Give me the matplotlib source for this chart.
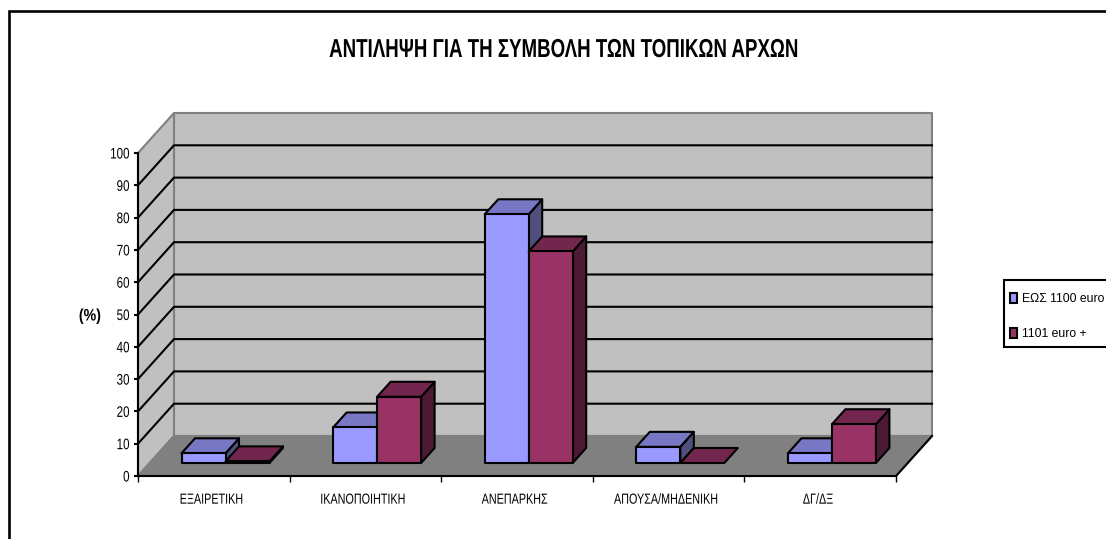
import numpy as np
import matplotlib
matplotlib.use('Agg')
import matplotlib.pyplot as plt
from matplotlib.patches import Polygon, Patch, Rectangle
from matplotlib.patheffects import AbstractPathEffect
from matplotlib.transforms import Affine2D
plt.rcParams['font.family'] = ['Liberation Sans', 'DejaVu Sans']

categories = ['ΕΞΑΙΡΕΤΙΚΗ', 'ΙΚΑΝΟΠΟΙΗΤΙΚΗ', 'ΑΝΕΠΑΡΚΗΣ', 'ΑΠΟΥΣΑ/ΜΗΔΕΝΙΚΗ', 'ΔΓ/ΔΞ']
low_income = [3, 11, 77, 5, 3]
high_income = [0.5, 20.5, 65.5, 0, 12]
series_names = ['ΕΩΣ 1100 euro', '1101 euro +']
title = 'ΑΝΤΙΛΗΨΗ ΓΙΑ ΤΗ ΣΥΜΒΟΛΗ ΤΩΝ ΤΟΠΙΚΩΝ ΑΡΧΩΝ'

W, H = 1106, 539
# axes box in pixels, front edge of the 3d box
left, right, top, bottom = 138, 896, 153, 476
px_x = (right - left) / len(categories)
px_y = (bottom - top) / 100

# oblique depth of the whole box, in data units
depth_x = 36 / px_x
depth_y = 40 / px_y
bar_w = 44 / px_x
bar_d0, bar_d1 = 0.325, 0.70


class Squeeze(AbstractPathEffect):
    # the reference text is horizontally squashed, no narrow font is installed
    def __init__(self, sx, anchor=0.5, shift=0):
        super().__init__()
        self.sx, self.anchor, self.shift = sx, anchor, shift

    def draw_path(self, renderer, gc, tpath, affine, rgbFace=None):
        w = tpath.get_extents().x1 * self.anchor
        local = Affine2D().translate(-w, 0).scale(self.sx, 1).translate(w, 0)
        renderer.draw_path(gc, tpath, local + affine + Affine2D().translate(self.shift, 0), rgbFace)


fig = plt.figure(figsize=(W / 100, H / 100), dpi=100)
ax = fig.add_axes([left / W, 1 - bottom / H, (right - left) / W, (bottom - top) / H])
ax.set_xlim(0, len(categories))
ax.set_ylim(0, 100)
ax.patch.set_visible(False)


def proj(x, y, d):
    return (x + d * depth_x, y + d * depth_y)


def face(pts, color, ec, lw=1.5, z=1):
    ax.add_patch(Polygon(pts, closed=True, fc=color, ec=ec, lw=lw, zorder=z, clip_on=False, joinstyle='round'))


n = len(categories)
wall = '#C0C0C0'
# back wall, side wall, floor
face([proj(0, 0, 1), proj(n, 0, 1), proj(n, 100, 1), proj(0, 100, 1)], wall, '#808080')
face([proj(0, 0, 0), proj(0, 0, 1), proj(0, 100, 1), proj(0, 100, 0)], wall, '#808080')
face([proj(0, 0, 0), proj(n, 0, 0), proj(n, 0, 1), proj(0, 0, 1)], '#808080', '#808080')
ax.plot(*zip(proj(n, 0, 0), proj(n, 0, 1)), color='k', lw=1.5, zorder=2, clip_on=False)

# gridlines, side wall then back wall
for v in range(10, 100, 10):
    ax.plot(*zip(proj(0, v, 0), proj(0, v, 1), proj(n, v, 1)), color='k', lw=1.5, zorder=2, clip_on=False,
            solid_joinstyle='miter')

colors = [('#9999FF', '#7777C4', '#50507F'), ('#993366', '#73264D', '#4D1A33')]


def bar3d(x0, v, cols):
    x1 = x0 + bar_w
    front, upper, side = cols
    if v > 0:
        face([proj(x1, 0, bar_d0), proj(x1, 0, bar_d1), proj(x1, v, bar_d1), proj(x1, v, bar_d0)], side, 'k', z=3)
    face([proj(x0, v, bar_d0), proj(x1, v, bar_d0), proj(x1, v, bar_d1), proj(x0, v, bar_d1)], upper, 'k', z=3)
    if v > 0:
        face([proj(x0, 0, bar_d0), proj(x1, 0, bar_d0), proj(x1, v, bar_d0), proj(x0, v, bar_d0)], front, 'k', z=3)


for i in range(n):
    start = i + 0.5 - bar_w
    bar3d(start, low_income[i], colors[0])
    bar3d(start + bar_w, high_income[i], colors[1])

# axes
for s in ['top', 'right']:
    ax.spines[s].set_visible(False)
ax.spines['left'].set_linewidth(1.5)
ax.spines['bottom'].set_linewidth(1.5)
ax.set_yticks(range(0, 101, 10))
ax.tick_params(axis='y', labelsize=11, length=3, width=1.5, pad=3)
for lab in ax.get_yticklabels():
    lab.set_path_effects([Squeeze(0.76, anchor=1.0)])
ax.set_xticks(range(n + 1))
ax.set_xticklabels([])
ax.tick_params(axis='x', which='major', length=4, width=1, color='k')
ax.set_xticks(np.arange(n) + 0.5, minor=True)
ax.set_xticklabels(categories, minor=True)
ax.tick_params(axis='x', which='minor', length=0, labelsize=10.5, pad=12)
for lab in ax.get_xticklabels(minor=True):
    lab.set_path_effects([Squeeze(0.74, shift=-2)])

fig.text(90 / W, 1 - 316 / H, '(%)', fontsize=12, fontweight='bold', ha='center', va='center',
         path_effects=[Squeeze(0.85)])
fig.text(564 / W, 1 - 50 / H, title, fontsize=18.7, fontweight='bold', ha='center', va='center',
         path_effects=[Squeeze(0.72)])

# outer frame runs off the right and bottom of the picture
fig.add_artist(plt.Line2D([8.5 / W, 8.5 / W, 1], [0, 1 - 10.5 / H, 1 - 10.5 / H], color='k', lw=1.9,
                          solid_joinstyle='miter'))

# legend box is cut by the picture edge, so the frame is its own rectangle
fig.add_artist(Rectangle((1003.5 / W, 1 - 347 / H), 110 / W, 67 / H, transform=fig.transFigure, fc='w', ec='k', lw=1.5))
handles = [Patch(fc=colors[0][0], ec='k', lw=1.5), Patch(fc=colors[1][0], ec='k', lw=1.5)]
leg = fig.legend(handles, series_names, loc='upper left', bbox_to_anchor=(1010 / W, 1 - 293 / H),
                 bbox_transform=fig.transFigure, fontsize=8.8, frameon=False, borderaxespad=0, borderpad=0,
                 labelspacing=1.85, handlelength=0.57, handleheight=0.9, handletextpad=0.45)
leg.set_zorder(5)

fig.savefig('out.png', dpi=100)
